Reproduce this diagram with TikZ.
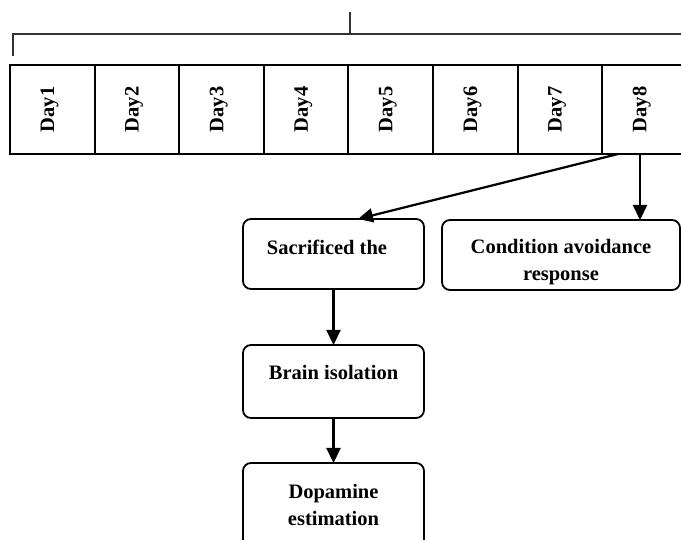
\documentclass[tikz,border=0pt]{standalone}
\usepackage{fontspec}
\setmainfont{Liberation Serif}
\usetikzlibrary{arrows.meta}
\begin{document}
\begin{tikzpicture}[x=1pt,y=-1pt,
  cell/.style={draw,line width=2pt,minimum width=84.6pt,minimum height=89pt,inner sep=0pt,outer sep=0pt},
  daylbl/.style={font=\fontsize{20.5}{24}\selectfont\bfseries,rotate=90},
  rbox/.style={draw,line width=1.8pt,rounded corners=8pt,minimum width=181pt,inner sep=0pt,outer sep=0pt},
  btext/.style={font=\fontsize{20.5}{27}\selectfont\bfseries,align=center,inner sep=0pt},
  arr/.style={line width=2.2pt,-{Triangle[length=15pt,width=14pt]}},
  brk/.style={line width=1.3pt,black!80}]
\useasboundingbox (0,0) rectangle (681,540);
% bracket
\coordinate (bl) at (13,56);
\coordinate (bc) at (13,34);
\coordinate (br) at (700,34);
\coordinate (tt) at (350,12);
\coordinate (tb) at (350,34);
\draw[brk] (bl) -- (bc) -- (br);
\draw[brk] (tt) -- (tb);
% day strip
\foreach \i in {1,...,8}{
  \node[cell] (d\i) at ({52.3+84.6*(\i-1)},109.5) {};
  \node[daylbl] (l\i) at ({49.5+84.6*(\i-1)},109.5) {Day\i};
}
% boxes
\node[rbox,minimum height=70pt] (sac) at (333.5,254) {};
\node[btext] (sact) at (327,247) {Sacrificed the};
\node[rbox,minimum width=238pt,minimum height=70pt] (cond) at (561,255) {};
\node[btext] (condt) at (561,262) {Condition avoidance\\response};
\node[rbox,minimum height=73pt] (brain) at (333.5,381.5) {};
\node[btext] (braint) at (333.5,372) {Brain isolation};
\node[rbox,minimum height=90pt] (dopa) at (333.5,508) {};
\node[btext] (dopat) at (333.5,505) {Dopamine\\estimation};
% connectors
\coordinate (s1) at ([xshift=-26.5pt]d8.south);
\coordinate (s2) at ([xshift=-4.5pt]d8.south);
\draw[arr] (s1) -- ([xshift=24.5pt]sac.north);
\draw[arr] (s2) -- (s2 |- cond.north);
\draw[arr] (sac.south) -- (brain.north);
\draw[arr] (brain.south) -- (dopa.north);
\end{tikzpicture}
\end{document}
